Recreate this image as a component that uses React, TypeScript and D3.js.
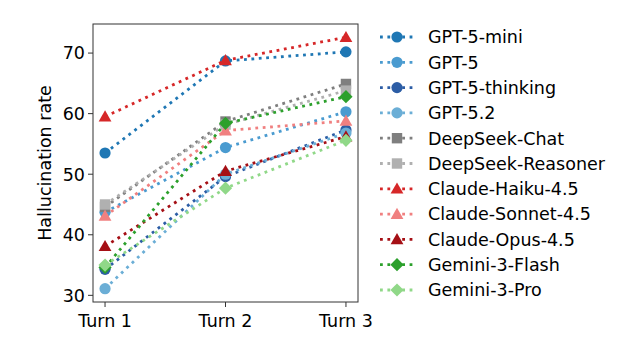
import * as React from 'react';
import * as d3 from 'd3';

const turns = ['Turn 1', 'Turn 2', 'Turn 3'];
const yTicks = [30, 40, 50, 60, 70];

const seriesNames = [
    'GPT-5-mini', 'GPT-5', 'GPT-5-thinking', 'GPT-5.2',
    'DeepSeek-Chat', 'DeepSeek-Reasoner',
    'Claude-Haiku-4.5', 'Claude-Sonnet-4.5', 'Claude-Opus-4.5',
    'Gemini-3-Flash', 'Gemini-3-Pro',
];

const gpt5mini = [53.5, 68.7, 70.2];
const gpt5 = [43.7, 54.4, 60.3];
const gpt5thinking = [34.3, 49.6, 57.3];
const gpt52 = [31.1, 50.0, 56.8];
const dsChat = [44.6, 58.7, 64.9];
const dsReasoner = [45.0, 58.2, 63.8];
const haiku = [59.5, 68.8, 72.6];
const sonnet = [43.1, 57.2, 58.8];
const opus = [38.1, 50.5, 56.2];
const geminiFlash = [34.6, 58.4, 62.8];
const geminiPro = [35.0, 47.7, 55.6];

const seriesValues = [gpt5mini, gpt5, gpt5thinking, gpt52, dsChat, dsReasoner, haiku, sonnet, opus, geminiFlash, geminiPro];
const seriesColors = ['#1f77b4', '#4a9bd0', '#2c5da5', '#6baed6', '#7f7f7f', '#b0b0b0', '#d62728', '#f08080', '#a50f15', '#2ca02c', '#90d888'];
const seriesMarkers = ['circle', 'circle', 'circle', 'circle', 'square', 'square', 'triangle', 'triangle', 'triangle', 'diamond', 'diamond'];

const W = 636, H = 344;
const margin = {left: 93, right: 358, top: 24, bottom: 302};
const font = 'DejaVu Sans, sans-serif';
const fs = 17.5;

function Marker({type, x, y, color}: {type: string; x: number; y: number; color: string}) {
    if (type === 'circle') return <circle cx={x} cy={y} r={5.6} fill={color} />;
    if (type === 'square') return <rect x={x - 5.2} y={y - 5.2} width={10.4} height={10.4} fill={color} />;
    if (type === 'triangle') {
        const s = 6.4;
        return <path d={`M${x},${y - s} L${x + s},${y + s * 0.75} L${x - s},${y + s * 0.75}Z`} fill={color} />;
    }
    const s = 6.6;
    return <path d={`M${x},${y - s} L${x + s},${y} L${x},${y + s} L${x - s},${y}Z`} fill={color} />;
}

export default function App() {
    const x = d3.scaleLinear().domain([-0.1, 2.1]).range([margin.left, margin.right]);
    const y = d3.scaleLinear().domain([28.9, 74.8]).range([margin.bottom, margin.top]);
    const line = d3.line<number>().x((d, i) => x(i)).y(d => y(d));

    const legendX = 380;
    const legendY0 = 37;
    const legendStep = 25.3;

    return (
        <svg width={W} height={H} style={{position: 'absolute', left: 0, top: 0, background: '#fff'}}
             fontFamily={font}>
            {seriesValues.map((vals, si) => (
                <g key={si}>
                    <path d={line(vals) || ''} fill="none" stroke={seriesColors[si]} strokeWidth={2.8}
                          strokeDasharray="2.8 4.6" />
                    {vals.map((v, i) => (
                        <Marker key={i} type={seriesMarkers[si]} x={x(i)} y={y(v)} color={seriesColors[si]} />
                    ))}
                </g>
            ))}
            <rect x={margin.left} y={margin.top} width={margin.right - margin.left} height={margin.bottom - margin.top}
                  fill="none" stroke="#333" strokeWidth={1} />
            {yTicks.map(t => (
                <g key={t} transform={`translate(0,${y(t)})`}>
                    <line x1={margin.left - 5} x2={margin.left} stroke="#333" strokeWidth={1} />
                    <text x={margin.left - 8} dy="0.36em" textAnchor="end" fontSize={fs} fill="#000">{t}</text>
                </g>
            ))}
            {turns.map((t, i) => (
                <g key={t} transform={`translate(${x(i)},0)`}>
                    <line y1={margin.bottom} y2={margin.bottom + 5} stroke="#333" strokeWidth={1} />
                    <text y={margin.bottom + 25} textAnchor="middle" fontSize={fs} fill="#000">{t}</text>
                </g>
            ))}
            <text transform={`translate(51,${(margin.top + margin.bottom) / 2}) rotate(-90)`} textAnchor="middle"
                  fontSize={fs} fill="#000">Hallucination rate</text>
            {seriesNames.map((name, si) => {
                const ly = legendY0 + si * legendStep;
                return (
                    <g key={name}>
                        <line x1={legendX} x2={legendX + 34} y1={ly} y2={ly} stroke={seriesColors[si]}
                              strokeWidth={2.8} strokeDasharray="2.8 4.6" />
                        <Marker type={seriesMarkers[si]} x={legendX + 17} y={ly} color={seriesColors[si]} />
                        <text x={428} y={ly} dy="0.36em" fontSize={fs} fill="#000">{name}</text>
                    </g>
                );
            })}
        </svg>
    );
}
